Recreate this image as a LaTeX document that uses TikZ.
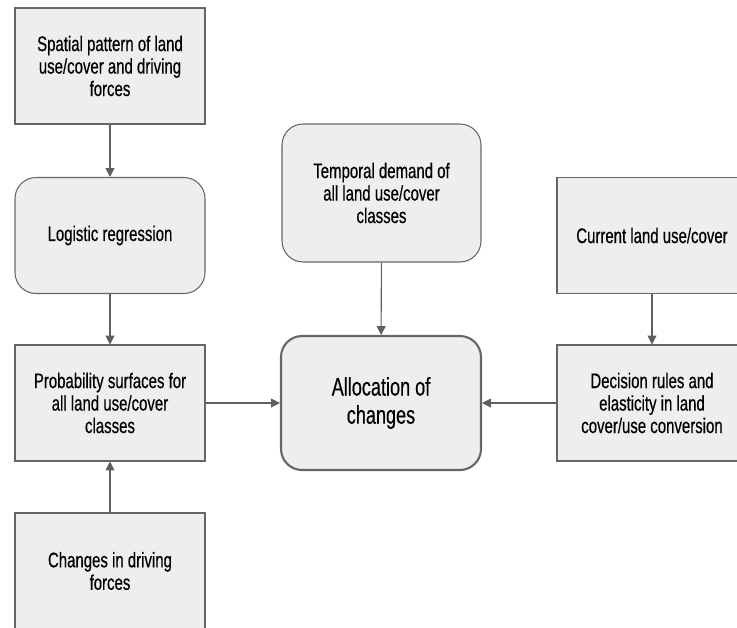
\documentclass[tikz,border=0pt]{standalone}
\usepackage{fontspec}
\setmainfont{Liberation Sans}[FakeStretch=0.71, FakeBold=0.4]
\usetikzlibrary{arrows.meta}
\definecolor{boxfill}{HTML}{EEEEEE}
\definecolor{boxline}{HTML}{666666}
\definecolor{arrowline}{HTML}{5F5F5F}
\tikzset{
  plainbox/.style={draw=boxline, fill=boxfill, line width=0.6pt, minimum width=3.8cm, minimum height=2.32cm, align=center, font=\fontsize{12}{12.8}\selectfont, inner sep=0pt},
  roundbox/.style={plainbox, rounded corners=0.42cm},
  flowarrow/.style={draw=arrowline, line width=0.6pt, -{Triangle[length=5pt,width=5pt]}}
}
\begin{document}
\begin{tikzpicture}[x=0.02cm, y=-0.02cm]
% Fix the page to the reference size
\useasboundingbox (0,0) rectangle (737,627);

% Left column
\node[plainbox] (spatial) at (110,66) {Spatial pattern of land\\use/cover and driving\\forces};
\node[roundbox] (logistic) at (110,235.5) {Logistic regression};
\node[plainbox] (probability) at (110,403) {Probability surfaces for\\all land use/cover\\classes};
\node[plainbox] (drivers) at (110,571) {Changes in driving\\forces};

% Middle column
\node[roundbox, minimum width=3.98cm, minimum height=2.76cm] (demand) at (381.5,193) {Temporal demand of\\all land use/cover\\classes};
\node[roundbox, minimum width=4cm, minimum height=2.68cm, line width=1.2pt, font=\fontsize{14.5}{16}\selectfont] (allocation) at (381,403) {Allocation of\\changes};

% Right column
\node[plainbox] (current) at (652,235.5) {Current land use/cover};
\node[plainbox] (decision) at (652,403) {Decision rules and\\elasticity in land\\cover/use conversion};

% Connectors
\draw[flowarrow] (spatial) -- (logistic);
\draw[flowarrow] (logistic) -- (probability);
\draw[flowarrow] (drivers) -- (probability);
\draw[flowarrow] (probability) -- (allocation);
\draw[flowarrow] (demand) -- (allocation);
\draw[flowarrow] (current) -- (decision);
\draw[flowarrow] (decision) -- (allocation);
\end{tikzpicture}
\end{document}
